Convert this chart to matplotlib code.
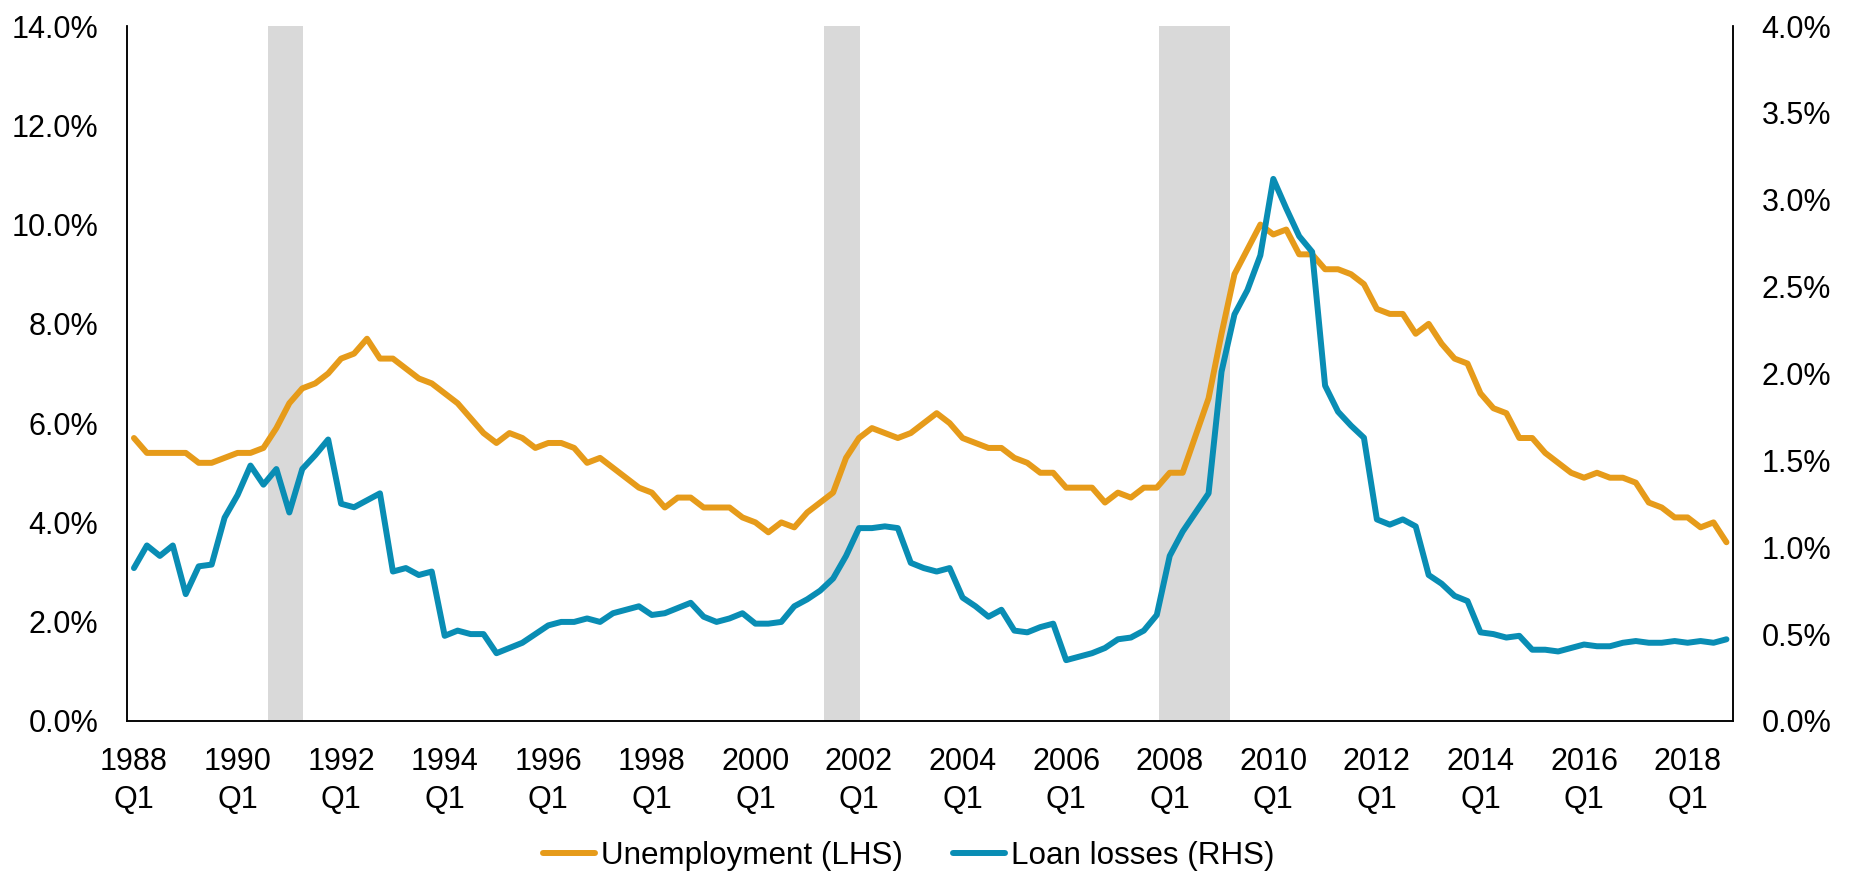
import numpy as np
import matplotlib
matplotlib.use('Agg')
import matplotlib.pyplot as plt
from matplotlib.ticker import FuncFormatter, FixedLocator

plt.rcParams['font.family'] = ['Liberation Sans', 'DejaVu Sans']

# quarterly, 1988Q1 .. 2018Q4
start_year = 1988
unemployment = [5.7, 5.4, 5.4, 5.4, 5.4, 5.2, 5.2, 5.3, 5.4, 5.4,
                5.5, 5.9, 6.4, 6.7, 6.8, 7.0, 7.3, 7.4, 7.7, 7.3,
                7.3, 7.1, 6.9, 6.8, 6.6, 6.4, 6.1, 5.8, 5.6, 5.8,
                5.7, 5.5, 5.6, 5.6, 5.5, 5.2, 5.3, 5.1, 4.9, 4.7,
                4.6, 4.3, 4.5, 4.5, 4.3, 4.3, 4.3, 4.1, 4.0, 3.8,
                4.0, 3.9, 4.2, 4.4, 4.6, 5.3, 5.7, 5.9, 5.8, 5.7,
                5.8, 6.0, 6.2, 6.0, 5.7, 5.6, 5.5, 5.5, 5.3, 5.2,
                5.0, 5.0, 4.7, 4.7, 4.7, 4.4, 4.6, 4.5, 4.7, 4.7,
                5.0, 5.0, 5.75, 6.5, 7.8, 9.0, 9.5, 10.0, 9.8, 9.9,
                9.4, 9.4, 9.1, 9.1, 9.0, 8.8, 8.3, 8.2, 8.2, 7.8,
                8.0, 7.6, 7.3, 7.2, 6.6, 6.3, 6.2, 5.7, 5.7, 5.4,
                5.2, 5.0, 4.9, 5.0, 4.9, 4.9, 4.8, 4.4, 4.3, 4.1,
                4.1, 3.9, 4.0, 3.6]
loan_losses = [0.88, 1.01, 0.95, 1.01, 0.73, 0.89, 0.90, 1.17, 1.30, 1.47,
               1.36, 1.45, 1.20, 1.45, 1.53, 1.62, 1.25, 1.23, 1.27, 1.31,
               0.86, 0.88, 0.84, 0.86, 0.49, 0.52, 0.50, 0.50, 0.39, 0.42,
               0.45, 0.50, 0.55, 0.57, 0.57, 0.59, 0.57, 0.62, 0.64, 0.66,
               0.61, 0.62, 0.65, 0.68, 0.60, 0.57, 0.59, 0.62, 0.56, 0.56,
               0.57, 0.66, 0.70, 0.75, 0.82, 0.95, 1.11, 1.11, 1.12, 1.11,
               0.91, 0.88, 0.86, 0.88, 0.71, 0.66, 0.60, 0.64, 0.52, 0.51,
               0.54, 0.56, 0.35, 0.37, 0.39, 0.42, 0.47, 0.48, 0.52, 0.61,
               0.95, 1.09, 1.20, 1.31, 2.01, 2.34, 2.48, 2.68, 3.12, 2.95,
               2.79, 2.70, 1.93, 1.78, 1.70, 1.63, 1.16, 1.13, 1.16, 1.12,
               0.84, 0.79, 0.72, 0.69, 0.51, 0.50, 0.48, 0.49, 0.41, 0.41,
               0.40, 0.42, 0.44, 0.43, 0.43, 0.45, 0.46, 0.45, 0.45, 0.46,
               0.45, 0.46, 0.45, 0.47]
# recession shading, decimal years
rec_start = [1990.58, 2001.33, 2007.80]
rec_end = [1991.26, 2002.02, 2009.17]
tick_years = list(range(1988, 2019, 2))

orange = '#E69B1A'
blue = '#098DB4'
fs = 22

n = len(unemployment)
q = np.arange(n)

fig = plt.figure(figsize=(18.53, 8.76), dpi=100)
fig.subplots_adjust(left=0.0688, right=0.9352, top=0.9703, bottom=0.177)
ax1 = fig.add_subplot(111)
ax2 = ax1.twinx()

for s, e in zip(rec_start, rec_end):
    ax1.axvspan((s - start_year) * 4, (e - start_year) * 4, color='#D9D9D9', lw=0, zorder=0)

l1, = ax1.plot(q, unemployment, color=orange, lw=4.3, solid_joinstyle='round',
               solid_capstyle='round', label='Unemployment (LHS)', zorder=3)
l2, = ax2.plot(q, loan_losses, color=blue, lw=4.3, solid_joinstyle='round',
               solid_capstyle='round', label='Loan losses (RHS)', zorder=3)

ax1.set_xlim(-0.5, n - 0.5)
ax1.set_ylim(0, 14)
ax2.set_ylim(0, 4)
ax1.set_yticks(np.arange(0, 14.1, 2))
ax2.set_yticks(np.arange(0, 4.01, 0.5))
pct = FuncFormatter(lambda v, p: '%.1f%%' % v)
ax1.yaxis.set_major_formatter(pct)
ax2.yaxis.set_major_formatter(pct)

ax1.xaxis.set_major_locator(FixedLocator([(y - start_year) * 4 for y in tick_years]))
ax1.set_xticklabels(['%d\nQ1' % y for y in tick_years], linespacing=1.32)

for ax in (ax1, ax2):
    ax.spines['top'].set_visible(False)
    for sp in ('left', 'right', 'bottom'):
        ax.spines[sp].set_color('black')
        ax.spines[sp].set_linewidth(1.1)
    ax.tick_params(length=0, labelsize=fs, colors='black')
ax1.tick_params(axis='y', pad=21)
ax2.tick_params(axis='y', pad=20.5)
ax1.tick_params(axis='x', pad=19)
ax1.patch.set_visible(False)
ax2.patch.set_visible(False)

fig.legend(handles=[l1, l2], loc='center', bbox_to_anchor=(909 / 1853, 20 / 876),
           ncol=2, frameon=False, fontsize=22.6, handlelength=1.65,
           handletextpad=0.2, columnspacing=1.6)

plt.savefig('out.png', dpi=100)
